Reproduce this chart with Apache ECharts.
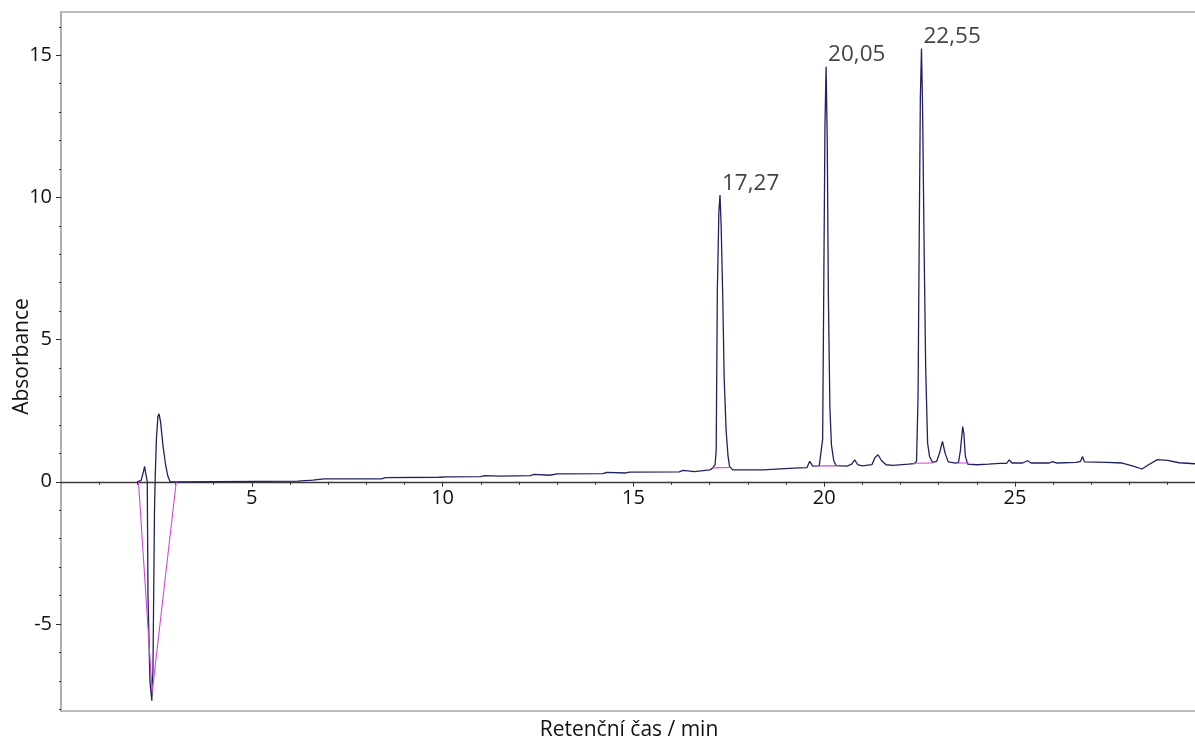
<!DOCTYPE html>
<html>
<head>
<meta charset="utf-8">
<script src="https://cdn.jsdelivr.net/npm/echarts@6/dist/echarts.min.js"></script>
<style>
  html, body { margin: 0; padding: 0; background: #fff; }
  #chart { width: 1195px; height: 743px; }
</style>
</head>
<body>
<div id="chart"></div>
<script>
// retention time (min), absorbance
const trace = [
  [1.99, 0.0], [2.10, 0.05], [2.16, 0.35], [2.19, 0.54], [2.22, 0.3], [2.26, 0.02],
  [2.28, -4.0], [2.33, -7.0], [2.38, -7.7], [2.41, -6.6], [2.45, -1.0], [2.47, 0.2],
  [2.50, 1.5], [2.54, 2.3], [2.57, 2.39], [2.61, 2.1], [2.67, 1.3], [2.74, 0.6],
  [2.80, 0.2], [2.86, 0.0], [3.0, 0.0], [6.2, 0.02], [6.6, 0.06], [6.9, 0.1],
  [8.4, 0.1], [8.5, 0.15], [9.9, 0.16], [10.1, 0.17], [11.0, 0.18], [11.1, 0.22],
  [11.5, 0.2], [12.3, 0.22], [12.4, 0.26], [12.8, 0.23], [13.0, 0.28], [14.2, 0.29],
  [14.3, 0.33], [14.8, 0.31], [14.9, 0.34], [16.2, 0.35], [16.3, 0.4], [16.6, 0.36],
  [17.0, 0.42], [17.07, 0.47], [17.14, 0.6], [17.17, 1.1], [17.20, 6.7], [17.24, 9.5],
  [17.27, 10.08], [17.30, 9.0], [17.34, 6.6], [17.38, 3.6], [17.43, 1.8], [17.48, 0.9],
  [17.52, 0.54], [17.6, 0.42], [18.4, 0.42], [19.2, 0.48], [19.55, 0.5], [19.62, 0.72],
  [19.7, 0.55], [19.87, 0.56], [19.92, 0.6], [19.96, 1.5], [19.99, 7.0], [20.02, 12.5],
  [20.05, 14.59], [20.08, 12.0], [20.11, 6.5], [20.15, 2.6], [20.19, 1.3], [20.25, 0.75],
  [20.31, 0.57], [20.6, 0.55], [20.72, 0.62], [20.8, 0.77], [20.88, 0.6], [21.0, 0.56],
  [21.25, 0.6], [21.33, 0.85], [21.41, 0.95], [21.5, 0.75], [21.62, 0.6], [21.8, 0.58],
  [22.2, 0.62], [22.36, 0.64], [22.42, 0.72], [22.46, 3.0], [22.49, 8.5], [22.52, 13.5],
  [22.55, 15.24], [22.58, 13.0], [22.62, 8.1], [22.66, 4.0], [22.71, 1.36], [22.76, 0.9],
  [22.84, 0.68], [22.95, 0.72], [23.02, 1.0], [23.1, 1.42], [23.17, 1.0], [23.25, 0.7],
  [23.45, 0.66], [23.52, 0.68], [23.57, 1.1], [23.63, 1.94], [23.66, 1.7], [23.7, 0.9],
  [23.76, 0.62], [23.8, 0.58], [24.0, 0.6], [24.3, 0.62], [24.6, 0.65], [24.78, 0.65],
  [24.85, 0.77], [24.92, 0.66], [25.2, 0.66], [25.33, 0.74], [25.42, 0.66], [25.9, 0.66],
  [25.98, 0.71], [26.1, 0.66], [26.6, 0.68], [26.72, 0.72], [26.77, 0.89], [26.82, 0.7],
  [27.4, 0.68], [27.81, 0.66], [28.1, 0.55], [28.33, 0.45], [28.5, 0.6], [28.73, 0.78],
  [29.0, 0.75], [29.3, 0.67], [29.77, 0.63]
];

// integration baselines (null splits the segments)
const baselines = [
  [2.03, 0], [2.39, -7.4], [3.02, 0], null,
  [17.07, 0.49], [17.52, 0.5], null,
  [19.87, 0.56], [20.31, 0.56], null,
  [22.36, 0.65], [22.84, 0.66], null,
  [23.49, 0.66], [23.8, 0.66]
];

const peakLabels = [
  [17.27, 10.08, '17,27'],
  [20.05, 14.59, '20,05'],
  [22.55, 15.24, '22,55']
];

const xMajorTicks = [5, 10, 15, 20, 25];
const xMinorTicks = [1, 2, 3, 4, 6, 7, 8, 9, 11, 12, 13, 14, 16, 17, 18, 19, 21, 22, 23, 24, 26, 27, 28, 29];
const yMajorTicks = [-5, 0, 5, 10, 15];
const yMinorTicks = [-8, -7, -6, -4, -3, -2, -1, 1, 2, 3, 4, 6, 7, 8, 9, 11, 12, 13, 14, 16];

const xMin = 0, xMax = 29.77;
const yMin = -8.06, yMax = 16.52;

const gridTop = 12, gridBottom = 32;
const gridHeight = 743 - gridTop - gridBottom;
// the time axis sits on absorbance = 0, lifted up from the bottom edge
const zeroOffset = -(0 - yMin) / (yMax - yMin) * gridHeight;

const font = 'Open Sans';
const textColor = '#111';
const chart = echarts.init(document.getElementById('chart'));

chart.setOption({
  backgroundColor: '#fff',
  animation: false,
  grid: {
    left: 61, right: -2, top: gridTop, bottom: gridBottom,
    outerBoundsMode: 'none', containLabel: false,
    show: true, borderColor: '#a8a8a8', borderWidth: 1.5
  },
  xAxis: [
    {
      type: 'value', min: xMin, max: xMax, position: 'bottom', offset: zeroOffset,
      axisLine: { onZero: false, lineStyle: { color: '#3a3a3a', width: 1.3 } },
      axisTick: { customValues: xMajorTicks, length: 5, lineStyle: { color: '#333' } },
      axisLabel: { customValues: xMajorTicks, margin: 7, fontSize: 20, fontFamily: font, color: textColor },
      splitLine: { show: false }
    },
    {
      type: 'value', min: xMin, max: xMax, position: 'bottom', offset: zeroOffset,
      axisLine: { show: false, onZero: false },
      axisTick: { customValues: xMinorTicks, length: 3, lineStyle: { color: '#333' } },
      axisLabel: { show: false },
      splitLine: { show: false }
    },
    {
      type: 'value', min: xMin, max: xMax, position: 'bottom',
      axisLine: { show: false, onZero: false },
      axisTick: { show: false },
      axisLabel: { show: false },
      splitLine: { show: false },
      name: 'Retenční čas / min', nameLocation: 'middle', nameGap: 9,
      nameTextStyle: { fontSize: 21, fontFamily: font, color: textColor }
    }
  ],
  yAxis: [
    {
      type: 'value', min: yMin, max: yMax, position: 'left',
      axisLine: { show: true, onZero: false, lineStyle: { color: '#a8a8a8', width: 1.5 } },
      axisTick: { show: true, customValues: yMajorTicks, length: 5, lineStyle: { color: '#333' } },
      axisLabel: { customValues: yMajorTicks, margin: 9, fontSize: 20, fontFamily: font, color: textColor },
      splitLine: { show: false },
      name: 'Absorbance', nameLocation: 'middle', nameGap: 28, nameMoveOverlap: false,
      nameTextStyle: { fontSize: 21, fontFamily: font, color: textColor, padding: [0, 0, 0, 10] }
    },
    {
      type: 'value', min: yMin, max: yMax, position: 'left',
      axisLine: { show: false, onZero: false },
      axisTick: { show: true, customValues: yMinorTicks, length: 2, lineStyle: { color: '#333' } },
      axisLabel: { show: false },
      splitLine: { show: false }
    }
  ],
  series: [
    {
      type: 'line', data: trace, xAxisIndex: 0, yAxisIndex: 0,
      showSymbol: false, lineStyle: { color: '#202064', width: 1.3 }
    },
    {
      type: 'line', data: baselines, xAxisIndex: 0, yAxisIndex: 0,
      showSymbol: false, connectNulls: false,
      lineStyle: { color: '#d046d8', width: 1.1 }
    },
    {
      type: 'scatter', data: peakLabels, xAxisIndex: 0, yAxisIndex: 0,
      symbolSize: 0,
      label: {
        show: true, position: 'right', distance: 2, offset: [0, -12],
        formatter: p => p.data[2],
        fontSize: 22.5, fontFamily: font, color: textColor
      }
    }
  ]
});
</script>
</body>
</html>
